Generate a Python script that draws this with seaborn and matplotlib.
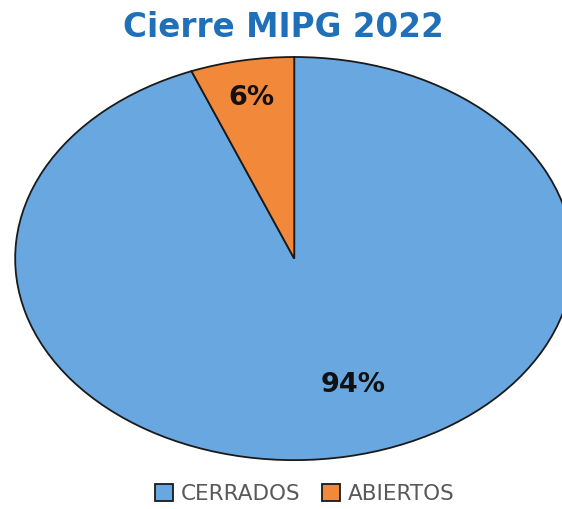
import numpy as np
import seaborn as sns
import matplotlib.pyplot as plt

categorias = ['CERRADOS', 'ABIERTOS']
valores = [94, 6]
colores = ['#69a7e0', '#f2883a']

sns.set_theme(style='white')
plt.rcParams['font.family'] = ['DejaVu Sans']

fig = plt.figure(figsize=(5.62, 5.09), dpi=100)
ax = fig.add_axes([0.027, 0.096, 0.993, 0.792])

wedges, textos = ax.pie(valores, colors=colores, startangle=90, counterclock=False,
                        wedgeprops=dict(edgecolor='#1a1a1a', linewidth=1.3))
ax.set_aspect('auto')
ax.set_xlim(-1.0, 1.0)
ax.set_ylim(-1.0, 1.0)

# etiquetas de porcentaje
radios = [0.66, 0.81]
desfase = [8, 0]
for w, v, r, d in zip(wedges, valores, radios, desfase):
    ang = np.deg2rad((w.theta1 + w.theta2) / 2 + d)
    ax.text(r * np.cos(ang), r * np.sin(ang), f'{v}%', ha='center', va='center',
            fontsize=19.5, fontweight='bold', color='#111111')

fig.suptitle('Cierre MIPG 2022', x=0.505, y=0.978, fontsize=23.5, fontweight='bold', color='#1f70b8')

leg = fig.legend(wedges, categorias, loc='lower center', bbox_to_anchor=(0.542, -0.028), ncol=2,
                 frameon=False, handlelength=0.85, handleheight=0.85, handletextpad=0.35,
                 columnspacing=1.0, prop={'size': 15.5})
for t in leg.get_texts():
    t.set_color('#595959')

plt.savefig('out.png', dpi=100)
